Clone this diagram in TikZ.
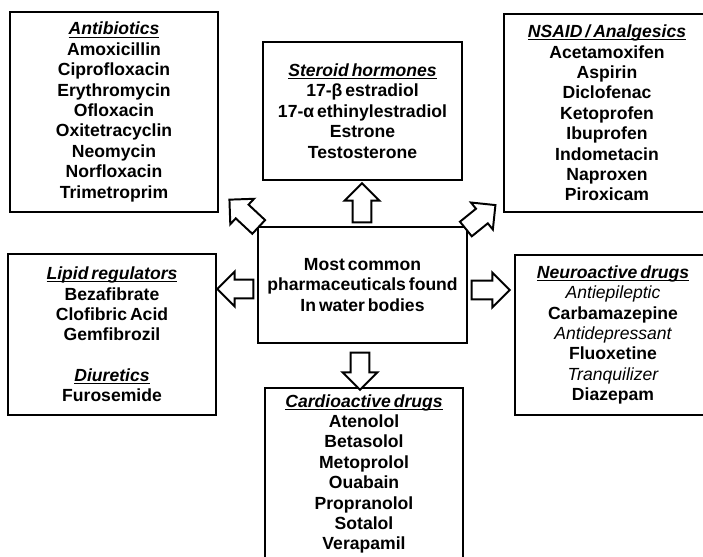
\documentclass[tikz,border=0pt]{standalone}
\usepackage{fontspec}
\setmainfont{Liberation Sans}[WordSpace=0.6]
\usetikzlibrary{shapes.arrows}

\tikzset{
  groupbox/.style={draw, line width=2pt, align=center, inner sep=0pt,
    font=\bfseries\fontsize{12.5}{14.5}\selectfont},
  blockarrow/.style={single arrow, draw, line width=1.4pt, fill=white,
    inner xsep=0pt, inner ysep=0.21cm, single arrow head extend=0.2cm,
    single arrow tip angle=90, minimum height=#1},
}
\newcommand{\grouptitle}[1]{\underline{\raisebox{0pt}[\height][0pt]{\itshape #1}}}
\newcommand{\subgroup}[1]{{\mdseries\itshape #1}}

\begin{document}
\begin{tikzpicture}[x=0.025cm, y=-0.025cm, line join=miter]
  \useasboundingbox (0,0) rectangle (703,557);
  \clip (0,0) rectangle (703,557);
  % groups of drugs
  \node[groupbox, minimum width=5.2cm, minimum height=5cm] (antibio) at (114,112)
    {\grouptitle{Antibiotics}\\ Amoxicillin\\ Ciprofloxacin\\ Erythromycin\\ Ofloxacin\\
     Oxitetracyclin\\ Neomycin\\ Norfloxacin\\ Trimetroprim};
  \node[groupbox, minimum width=4.975cm, minimum height=3.45cm] (steroid) at (362.5,111)
    {\grouptitle{Steroid hormones}\\ 17-β estradiol\\ 17-α ethinylestradiol\\ Estrone\\ Testosterone};
  \node[groupbox, minimum width=5.15cm, minimum height=4.95cm] (nsaid) at (607,113)
    {\grouptitle{NSAID / Analgesics}\\ Acetamoxifen\\ Aspirin\\ Diclofenac\\ Ketoprofen\\
     Ibuprofen\\ Indometacin\\ Naproxen\\ Piroxicam};
  \node[groupbox, minimum width=5.225cm, minimum height=2.9cm] (main) at (362.5,285)
    {Most common\\ pharmaceuticals found\\ In water bodies};
  \node[groupbox, minimum width=5.2cm, minimum height=4.025cm] (lipid) at (112,334.5)
    {\grouptitle{Lipid regulators}\\ Bezafibrate\\ Clofibric Acid\\ Gemfibrozil\\ ~\\
     \grouptitle{Diuretics}\\ Furosemide};
  \node[groupbox, minimum width=4.9cm, minimum height=4cm] (neuro) at (613,335)
    {\grouptitle{Neuroactive drugs}\\ \subgroup{Antiepileptic}\\ Carbamazepine\\
     \subgroup{Antidepressant}\\ Fluoxetine\\ \subgroup{Tranquilizer}\\ Diazepam};
  \node[groupbox, minimum width=4.95cm, minimum height=4.3cm] (cardio) at (364,474)
    {\grouptitle{Cardioactive drugs}\\ Atenolol\\ Betasolol\\ Metoprolol\\ Ouabain\\
     Propranolol\\ Sotalol\\ Verapamil};
  % hollow arrows out of the centre
  \node[blockarrow=0.975cm, rotate=90] (toSteroid) at (362,207.5) {};
  \node[blockarrow=0.925cm, rotate=270] (toCardio) at (360,366.5) {};
  \node[blockarrow=0.9cm, rotate=180] (toLipid) at (240,289) {};
  \node[blockarrow=0.95cm] (toNeuro) at (486,290) {};
  \node[blockarrow=1cm, rotate=137] (toAntibio) at (247.5,216.5) {};
  \node[blockarrow=0.95cm, rotate=39] (toNsaid) at (477,220) {};
\end{tikzpicture}
\end{document}
